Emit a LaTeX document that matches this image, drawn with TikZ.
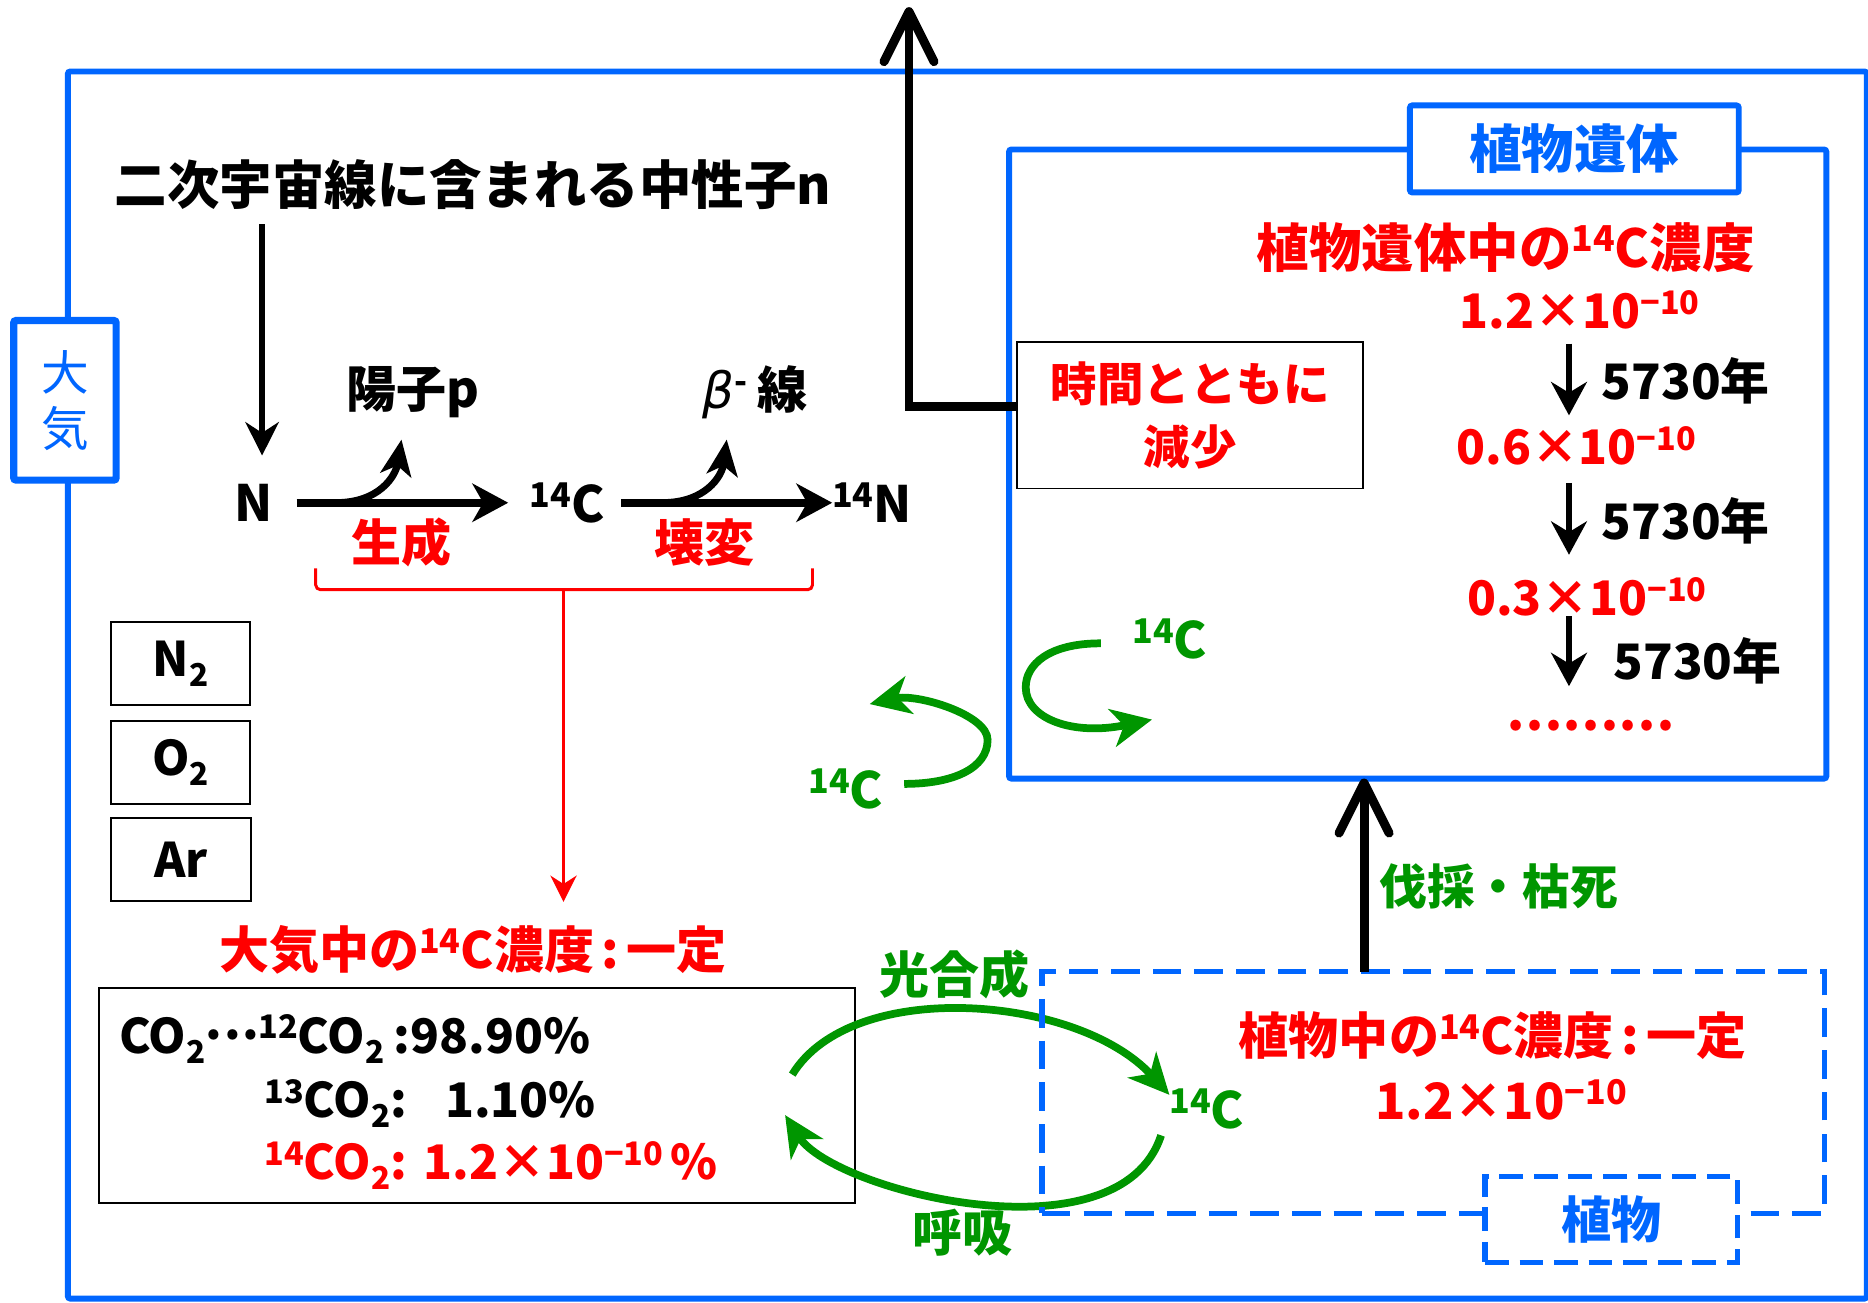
\documentclass[tikz,border=0pt]{standalone}
\usepackage{fontspec}
\setmainfont{Noto Sans CJK JP}
\newfontfamily\dejavu{DejaVu Sans}
\usetikzlibrary{arrows.meta}
\definecolor{cblue}{RGB}{0,102,255}
\definecolor{cred}{RGB}{255,0,0}
\definecolor{cgreen}{RGB}{0,150,0}
\newcommand\fsz[1]{\fontsize{#1}{#1}\selectfont}
\newcommand\upx[1]{\raisebox{0.3em}{\scalebox{0.68}{#1}}}
\newcommand\dnx[1]{\raisebox{-0.22em}{\scalebox{0.66}{#1}}}
\newcommand\mdots{\raisebox{0.28em}{.\hspace{0.04em}.\hspace{0.04em}.}}
\begin{document}
\begin{tikzpicture}[x=1pt,y=-1pt,
  every node/.style={inner sep=0pt,outer sep=0pt},
  jp/.style={font=\bfseries\fsz{42}},
  jpr/.style={jp,text=cred},
  jpg/.style={jp,text=cgreen},
  gasbox/.style={draw=black,line width=1.6,minimum width=117,minimum height=70,font=\bfseries\fsz{40}},
  rxn/.style={line width=7,-{Stealth[length=30,width=32,inset=9]}},
  branch/.style={line width=6,-{Stealth[length=30,width=26,inset=8]}},
  sblk/.style={line width=4.5,-{Stealth[length=28,width=30,inset=9]}},
  bigblk/.style={line width=7.5,-{Straight Barb[length=42,width=42,round]}},
  garrow/.style={cgreen,line width=6.5,-{Stealth[length=34,width=32,inset=10]}},
  bluebox/.style={draw=cblue,line width=5,rounded corners=2},
  dashbox/.style={draw=cblue,line width=4.5,dash pattern=on 24pt off 11pt}]
\useasboundingbox (0,0) rectangle (1568,1093);
\fill[white] (0,0) rectangle (1568,1093);

% outer frame
\draw[cblue,line width=5,rounded corners=2] (57,60) rectangle (1567,1090);
\node[bluebox,line width=6,fill=white,minimum width=86,minimum height=134,
      text=cblue,align=center,font=\fontsize{40}{47}\selectfont] (taiki) at (54.5,336) {大\\気};

% cosmic ray part
\node[jp,font=\bfseries\fsz{44}] (cosmic) at (397,155) {二次宇宙線に含まれる中性子n};
\node[jp] (nN) at (213,422) {N};
\node[jp] (c14) at (476,422) {\upx{14}C};
\node[jp] (n14) at (732,422) {\upx{14}N};
\node[jp] (proton) at (347,329) {陽子p};
\node[jp] (beta) at (634,329) {{\dejavu\mdseries\itshape β}\upx{-}\hspace{0.2em}線};
\node[jpr] (gen) at (337,455) {生成};
\node[jpr] (decay) at (591,455) {壊変};

\draw[line width=4.5,-{Stealth[length=28,width=28,inset=9]},shorten <=12,shorten >=24]
  ([xshift=7]cosmic.south -| nN) -- ([xshift=7]nN.north);
\draw[rxn,shorten <=20,shorten >=18] (nN.east) -- (c14.west);
\draw[rxn,shorten <=14,shorten >=0] (c14.east) -- (n14.west);
\coordinate (b1s) at (282,422); \coordinate (b1e) at (337,369);
\draw[branch] (b1s) .. controls (318,422) and (332,400) .. (b1e);
\coordinate (b2s) at (556,422); \coordinate (b2e) at (610,369);
\draw[branch] (b2s) .. controls (592,422) and (606,400) .. (b2e);

% brace and red arrow
\draw[cred,line width=2.5,rounded corners=4] (265,477) -- (265,495) -- (682,495) -- (682,477);
\coordinate (bc) at (473,495);
\coordinate (tkarrow) at (473,757);
\node[jpr] (tk) at (397,797) {大気中の\upx{14}C濃度\hspace{0.15em}:\hspace{0.15em}一定};
\draw[cred,line width=2.5,-{Stealth[length=22,width=22,inset=7]}] (bc) -- (tkarrow);

% gas boxes
\node[gasbox] (n2) at (151.5,557) {N\dnx{2}};
\node[gasbox] (o2) at (151.5,640) {O\dnx{2}};
\node[gasbox] (ar) at (152,721.5) {Ar};

% CO2 box
\node[draw=black,line width=1.6,minimum width=635,minimum height=181] (co2) at (400.5,919.5) {};
\node[jp,font=\bfseries\fsz{40},anchor=base west] (l1a) at (100,884) {CO\dnx{2}\mdots};
\node[jp,font=\bfseries\fsz{40},anchor=base west] (l1b) at (217,884) {\upx{12}CO\dnx{2}\hspace{0.2em}:98.90\%};
\node[jp,font=\bfseries\fsz{40},anchor=base west] (l2) at (222,938) {\upx{13}CO\dnx{2}:\hspace{0.8em}1.10\%};
\node[jp,font=\bfseries\fsz{40},anchor=base west,text=cred] (l3) at (222,990) {\upx{14}CO\dnx{2}:\hspace{0.35em}1.2×10\upx{−10}\hspace{0.15em}\%};

% photosynthesis / respiration
\node[jpg] (photo) at (801,818) {光合成};
\node[jpg] (resp) at (808,1035) {呼吸};
\node[jpg] (g14) at (1013,931) {\upx{14}C};
\coordinate (ps) at (665,902);
\coordinate (re) at (659,936);
\draw[garrow] (ps) .. controls (715,820) and (905,835) .. ([yshift=12]g14.west);
\draw[garrow] ([xshift=-7,yshift=-22]g14.west) .. controls (940,1060) and (700,1000) .. (re);

% exchange loops
\node[jpg] (l14) at (710,662) {\upx{14}C};
\node[jpg] (r14) at (982,536) {\upx{14}C};
\coordinate (lo1) at (759,658); \coordinate (lo2) at (730,591);
\draw[garrow] (lo1) .. controls (800,658) and (829,645) .. (829,621) .. controls (829,600) and (770,582) .. (lo2);
\coordinate (ro1) at (924,540); \coordinate (ro2) at (967,604);
\draw[garrow] (ro1) .. controls (880,540) and (861,558) .. (861,577) .. controls (861,603) and (900,618) .. (ro2);

% plant box
\node[dashbox,minimum width=657,minimum height=203] (pbox) at (1203,917) {};
\node[dashbox,dash pattern=on 20pt off 9pt,fill=white,minimum width=212,minimum height=72,
      font=\bfseries\fsz{42},text=cblue] (plab) at (1352.5,1023.5) {植物};
\node[jpr] (pconc) at (1253,869) {植物中の\upx{14}C濃度\hspace{0.15em}:\hspace{0.15em}一定};
\node[jpr] (pval) at (1260,923) {1.2×10\upx{−10}};

% felling arrow
\node[jpg,font=\bfseries\fsz{40}] (fell) at (1258,744) {伐採・枯死};

% remains box
\node[bluebox,minimum width=686,minimum height=528] (rbox) at (1190,389.5) {};
\node[bluebox,fill=white,minimum width=276,minimum height=73,font=\bfseries\fsz{44},text=cblue] (rlab) at (1321.5,125) {植物遺体};
\coordinate (fx) at (1145,0);
\draw[bigblk] (pbox.north -| fx) -- (rbox.south -| fx);

\node[jpr,font=\bfseries\fsz{44}] (rconc) at (1264,208) {植物遺体中の\upx{14}C濃度};
\node[jpr,font=\bfseries\fsz{40}] (v1) at (1326,260) {1.2×10\upx{−10}};
\node[jpr,font=\bfseries\fsz{40}] (v2) at (1323,374) {0.6×10\upx{−10}};
\node[jpr,font=\bfseries\fsz{40}] (v3) at (1332,501) {0.3×10\upx{−10}};
\node[jp,font=\bfseries\fsz{41}] (y1) at (1415,320) {5730年};
\node[jp,font=\bfseries\fsz{41}] (y2) at (1415,437) {5730年};
\node[jp,font=\bfseries\fsz{41}] (y3) at (1425,555) {5730年};
\node[jpr] (dots) at (1335,609) {………};
\coordinate (ax) at (1317,0);
\coordinate (a3e) at (1317,576);
\draw[sblk,shorten <=12,shorten >=9] (v1.south -| ax) -- (v2.north -| ax);
\draw[sblk,shorten <=15,shorten >=19] (v2.south -| ax) -- (v3.north -| ax);
\draw[sblk] (v3.south -| ax) -- (a3e);

% time box
\node[draw=black,line width=1.6,fill=white,minimum width=290,minimum height=123,
      align=center,text=cred,font=\bfseries\fontsize{39}{53}\selectfont] (jikan) at (999,348.5) {時間とともに\\減少};
\coordinate (topc) at (763,6);
\draw[bigblk] ([yshift=7.5]jikan.west) -| (topc);
\end{tikzpicture}
\end{document}
